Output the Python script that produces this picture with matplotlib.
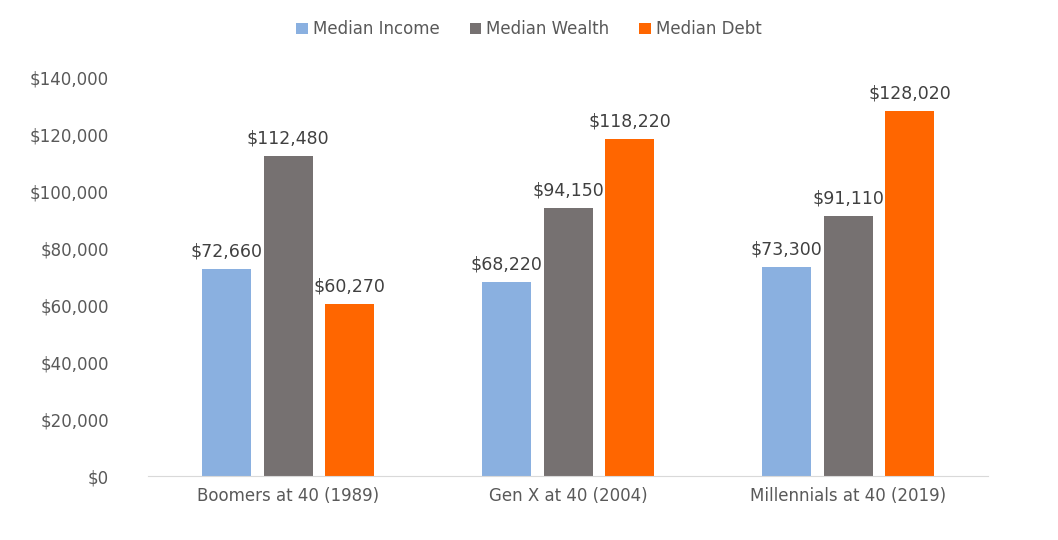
import numpy as np
import matplotlib.pyplot as plt

categories = ['Boomers at 40 (1989)', 'Gen X at 40 (2004)', 'Millennials at 40 (2019)']
median_income = [72660, 68220, 73300]
median_wealth = [112480, 94150, 91110]
median_debt = [60270, 118220, 128020]

series = [('Median Income', median_income, '#8AB0E0'),
          ('Median Wealth', median_wealth, '#767171'),
          ('Median Debt', median_debt, '#FF6600')]

fig = plt.figure(figsize=(10.58, 5.4), dpi=100)
ax = fig.add_axes([0.140, 0.1185, 0.794, 0.7385])
x = np.arange(len(categories))
width = 0.175
step = 0.22
for i, (name, vals, color) in enumerate(series):
    pos = x + (i - 1) * step
    ax.bar(pos, vals, width, color=color, label=name)
    for p, v in zip(pos, vals):
        ax.text(p, v + 3000, '${:,}'.format(v), ha='center', va='bottom',
                fontsize=12.5, color='#404040')

ax.set_xlim(-0.5, 2.5)
ax.set_ylim(0, 140000)
ax.set_yticks(np.arange(0, 140001, 20000))
ax.set_yticklabels(['${:,}'.format(v) for v in range(0, 140001, 20000)])
ax.set_xticks(x)
ax.set_xticklabels(categories)
ax.tick_params(axis='both', length=0, labelsize=12, labelcolor='#595959')
ax.tick_params(axis='y', pad=28)
ax.tick_params(axis='x', pad=8)
for s in ['top', 'right', 'left']:
    ax.spines[s].set_visible(False)
ax.spines['bottom'].set_color('#D9D9D9')
fig.legend(loc='upper center', bbox_to_anchor=(0.5, 0.99), ncol=3, frameon=False,
           fontsize=12, handlelength=0.7, handleheight=0.7, columnspacing=1.8,
           handletextpad=0.3, labelcolor='#595959')
fig.savefig('out.png', dpi=100)
